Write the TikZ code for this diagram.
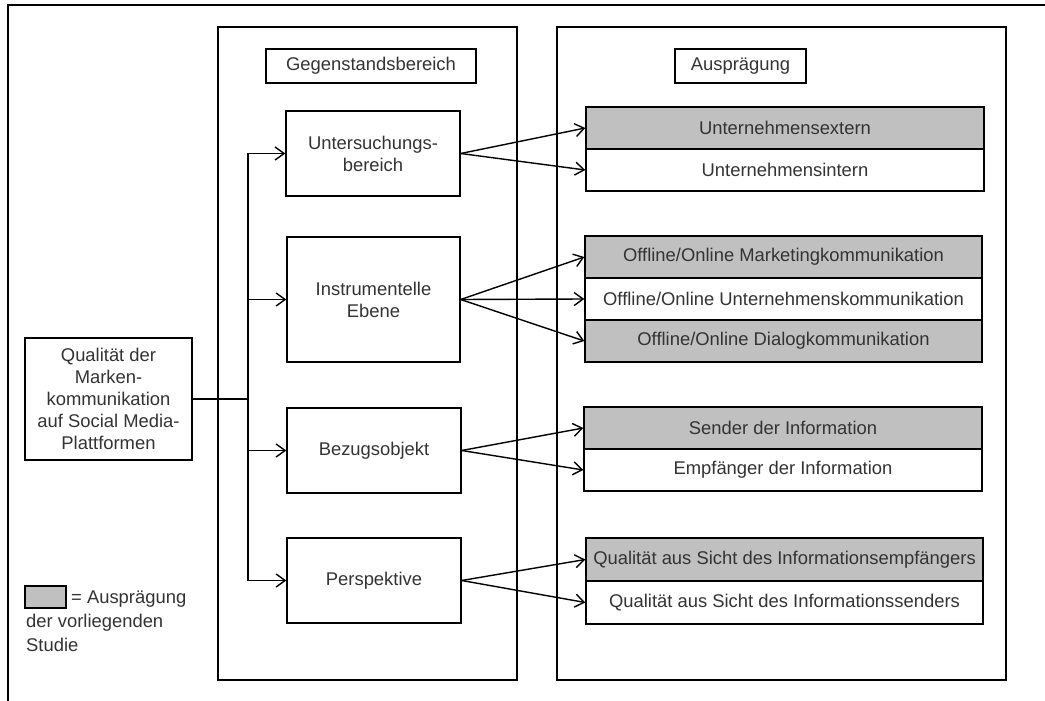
\documentclass[tikz,border=0pt]{standalone}
\usepackage{fontspec}
\setmainfont{Liberation Sans}
\usetikzlibrary{arrows.meta}
\definecolor{txt}{HTML}{333333}
\definecolor{fillgray}{HTML}{C0C0C0}
\tikzset{
  ln/.style={line width=1.4pt, draw=black},
  bx/.style={ln, rectangle, inner sep=0pt, align=center, text=txt,
    font=\fontsize{18.4}{22}\selectfont},
  gbx/.style={bx, fill=fillgray},
  arr/.style={ln, -{Straight Barb[length=9pt,width=13pt,line width=1.4pt]}},
  plain/.style={ln},
  lbl/.style={inner sep=0pt, text=txt, anchor=west, font=\fontsize{18.4}{22}\selectfont}
}
\begin{document}
\begin{tikzpicture}[x=1pt,y=-1pt]
\useasboundingbox (0,0) rectangle (1045,701);
% outer frame (cropped)
\draw[plain] (1045,5) -- (8,5) -- (8,701);
% columns
\node[bx, minimum width=299pt, minimum height=653pt] (colL) at (367.5,353.5) {};
\node[bx, minimum width=449pt, minimum height=653pt] (colR) at (781.5,353.5) {};
\node[bx, minimum width=210pt, minimum height=34pt] (hdrL) at (371,66) {Gegenstandsbereich};
\node[bx, minimum width=131pt, minimum height=34pt] (hdrR) at (740.5,66) {Ausprägung};
% source
\node[bx, minimum width=167pt, minimum height=122pt] (src) at (108.5,399) {Qualität der\\Marken-\\kommunikation\\auf Social Media-\\Plattformen};
% middle boxes
\node[bx, minimum width=174pt, minimum height=85pt] (m1) at (373,153.5) {Untersuchungs-\\bereich};
\node[bx, minimum width=173pt, minimum height=125pt] (m2) at (373.5,299.5) {Instrumentelle\\Ebene};
\node[bx, minimum width=174pt, minimum height=85pt] (m3) at (374,450.5) {Bezugsobjekt};
\node[bx, minimum width=174pt, minimum height=85pt] (m4) at (374,580.5) {Perspektive};
% right boxes
\node[gbx, minimum width=398pt, minimum height=42pt] (r1a) at (785,128) {Unternehmensextern};
\node[bx, minimum width=398pt, minimum height=42pt] (r1b) at (785,170) {Unternehmensintern};
\node[gbx, minimum width=397pt, minimum height=42pt] (r2a) at (783.5,257) {Offline/Online Marketingkommunikation};
\node[bx, minimum width=397pt, minimum height=42pt] (r2b) at (783.5,299) {Offline/Online Unternehmenskommunikation};
\node[gbx, minimum width=397pt, minimum height=42pt] (r2c) at (783.5,341) {Offline/Online Dialogkommunikation};
\node[gbx, minimum width=398pt, minimum height=42pt] (r3a) at (783,428) {Sender der Information};
\node[bx, minimum width=398pt, minimum height=42pt] (r3b) at (783,470) {Empfänger der Information};
\node[gbx, minimum width=397pt, minimum height=43pt] (r4a) at (784.5,559.5) {Qualität aus Sicht des Informationsempfängers};
\node[bx, minimum width=397pt, minimum height=43pt] (r4b) at (784.5,602.5) {Qualität aus Sicht des Informationssenders};
% legend
\node[gbx, minimum width=41pt, minimum height=22pt] (leg) at (45.5,597) {};
\node[lbl] (leg1) at (71,599) {= Ausprägung};
\node[lbl] (leg2) at (26,623) {der vorliegenden};
\node[lbl] (leg3) at (26,645) {Studie};
% trunk
\coordinate (j) at (248,399);
\draw[plain] (src.east) -- (j);
\draw[arr] (j) |- (m1.west);
\draw[arr] (j) |- (m2.west);
\draw[arr] (j) |- (m3.west);
\draw[arr] (j) |- (m4.west);
% fan-out arrows
\draw[arr] (m1.east) -- (r1a.west);
\draw[arr] (m1.east) -- (r1b.west);
\draw[arr] (m2.east) -- (r2a.west);
\draw[arr] (m2.east) -- (r2b.west);
\draw[arr] (m2.east) -- (r2c.west);
\draw[arr] (m3.east) -- (r3a.west);
\draw[arr] (m3.east) -- (r3b.west);
\draw[arr] (m4.east) -- (r4a.west);
\draw[arr] (m4.east) -- (r4b.west);
\end{tikzpicture}
\end{document}
